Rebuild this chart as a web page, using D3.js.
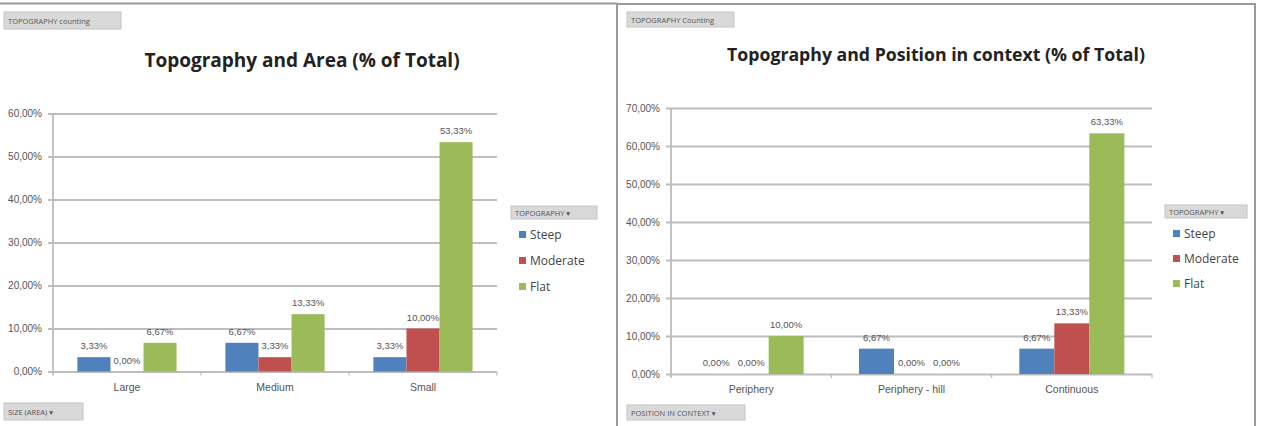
<!DOCTYPE html>
<html>
<head>
<meta charset="utf-8">
<script src="https://cdn.jsdelivr.net/npm/d3@7"></script>
<style>
  body { margin: 0; background: #fff; }
  svg { display: block; font-family: "Open Sans", "DejaVu Sans", sans-serif; }
</style>
</head>
<body>
<div id="chart"></div>
<script>
// Data
const series = ["Steep", "Moderate", "Flat"];
const colors = ["#4f81bd", "#c0504d", "#9bbb59"];

const areaCategories = ["Large", "Medium", "Small"];
const areaSteep = [3.33, 6.67, 3.33];
const areaModerate = [0.00, 3.33, 10.00];
const areaFlat = [6.67, 13.33, 53.33];
const areaTicks = [0, 10, 20, 30, 40, 50, 60];

const posCategories = ["Periphery", "Periphery - hill", "Continuous"];
const posSteep = [0.00, 6.67, 6.67];
const posModerate = [0.00, 0.00, 13.33];
const posFlat = [10.00, 0.00, 63.33];
const posTicks = [0, 10, 20, 30, 40, 50, 60, 70];

const W = 1264, H = 426;
const svg = d3.select("#chart").append("svg")
    .attr("width", W)
    .attr("height", H);

const pct = v => d3.format(".2f")(v).replace(".", ",") + "%";

// Frames
svg.append("line").attr("x1", 0).attr("x2", 617).attr("y1", 3.5).attr("y2", 3.5)
    .attr("stroke", "#9a9a9a").attr("stroke-width", 2);
svg.append("rect").attr("x", 617).attr("y", 4).attr("width", 638).attr("height", 430)
    .attr("fill", "none").attr("stroke", "#9a9a9a").attr("stroke-width", 2);

// Grey pivot field buttons
function button(x, y, w, h, label, arrow) {
    svg.append("rect").attr("x", x).attr("y", y).attr("width", w).attr("height", h)
        .attr("fill", "#d9d9d9").attr("stroke", "#c4c4c4");
    svg.append("text").attr("x", x + 4).attr("y", y + h / 2 + 3)
        .attr("font-size", 7.5).attr("fill", "#555")
        .text(label + (arrow ? "  \u25BE" : ""));
}

function drawChart(o) {
    const g = svg.append("g");
    const values = [o.steep, o.moderate, o.flat];
    const rows = o.categories.map((c, i) => ({
        cat: c,
        vals: series.map((s, j) => ({ s, j, v: values[j][i] }))
    }));

    const y = d3.scaleLinear().domain([0, d3.max(o.ticks)]).range([o.bottom, o.top]);
    const x0 = d3.scaleBand().domain(o.categories).range([o.left, o.right])
        .paddingInner(o.pad).paddingOuter(o.pad / 2);
    const x1 = d3.scaleBand().domain(series).range([0, x0.bandwidth()]);

    // Title
    g.append("text").attr("x", o.titleX).attr("y", o.titleY)
        .attr("text-anchor", "middle").attr("font-size", o.titleSize).attr("font-weight", "bold")
        .attr("fill", "#222").text(o.title);

    // Grid + y axis
    const ya = d3.axisLeft(y).tickValues(o.ticks).tickFormat(pct)
        .tickSize(-(o.right - o.left + 5)).tickPadding(6);
    const ay = g.append("g").attr("transform", `translate(${o.left - 5},0)`).call(ya);
    ay.select(".domain").remove();
    ay.selectAll(".tick line").attr("stroke", "#bdbdbd").attr("stroke-width", 1.8);
    ay.selectAll(".tick text").attr("font-size", o.tickSize).attr("fill", "#555")
        .attr("font-family", "'Liberation Sans', sans-serif");
    g.append("line").attr("x1", o.left).attr("x2", o.left)
        .attr("y1", o.top).attr("y2", o.bottom + 3)
        .attr("stroke", "#bdbdbd").attr("stroke-width", 1.8);

    // Category boundary ticks
    const step = x0.step();
    d3.range(o.categories.length + 1).forEach(k => {
        const xx = o.left + k * step;
        g.append("line").attr("x1", xx).attr("x2", xx)
            .attr("y1", o.bottom).attr("y2", o.bottom + 4)
            .attr("stroke", "#bdbdbd").attr("stroke-width", 1.2);
    });

    // x labels
    const xa = d3.axisBottom(x0).tickSize(0).tickPadding(12);
    const ax = g.append("g").attr("transform", `translate(0,${o.bottom})`).call(xa);
    ax.select(".domain").remove();
    ax.selectAll(".tick text").attr("font-size", 10.5).attr("fill", "#555");

    // Bars
    const grp = g.selectAll(".grp").data(rows).join("g")
        .attr("transform", d => `translate(${x0(d.cat)},0)`);
    grp.selectAll("rect").data(d => d.vals).join("rect")
        .attr("x", d => x1(d.s))
        .attr("y", d => y(d.v))
        .attr("width", x1.bandwidth())
        .attr("height", d => y(0) - y(d.v))
        .attr("fill", d => colors[d.j]);
    grp.selectAll("text").data(d => d.vals).join("text")
        .attr("x", d => x1(d.s) + x1.bandwidth() / 2)
        .attr("y", d => y(d.v) - 8)
        .attr("text-anchor", "middle")
        .attr("font-size", 9.5).attr("fill", "#555")
        .attr("font-family", "'Liberation Sans', sans-serif")
        .text(d => pct(d.v));

    // Legend
    button(o.legX - 8, o.legY - 29, o.legW, 13, "TOPOGRAPHY", true);
    series.forEach((s, i) => {
        const ly = o.legY + i * o.legStep;
        g.append("rect").attr("x", o.legX).attr("y", ly - 4).attr("width", 7).attr("height", 7)
            .attr("fill", colors[i]);
        g.append("text").attr("x", o.legX + 11).attr("y", ly + 4)
            .attr("font-size", 12).attr("fill", "#444").text(s);
    });
}

drawChart({
    title: "Topography and Area (% of Total)", titleX: 302, titleY: 67, titleSize: 19,
    categories: areaCategories, steep: areaSteep, moderate: areaModerate, flat: areaFlat,
    ticks: areaTicks, left: 53, right: 497, top: 113.5, bottom: 371.5, pad: 0.33,
    tickSize: 10, legX: 519, legY: 235, legStep: 26, legW: 86
});
drawChart({
    title: "Topography and Position in context (% of Total)", titleX: 936, titleY: 61, titleSize: 17.7,
    categories: posCategories, steep: posSteep, moderate: posModerate, flat: posFlat,
    ticks: posTicks, left: 671, right: 1152, top: 108, bottom: 374, pad: 0.345,
    tickSize: 10, legX: 1173, legY: 234, legStep: 25, legW: 82
});

button(4, 12, 117, 17, "TOPOGRAPHY counting", false);
button(627, 12, 107, 15, "TOPOGRAPHY Counting", false);
button(4, 403, 79, 17, "SIZE (AREA)", true);
button(627, 405, 118, 15, "POSITION IN CONTEXT", true);
</script>
</body>
</html>
